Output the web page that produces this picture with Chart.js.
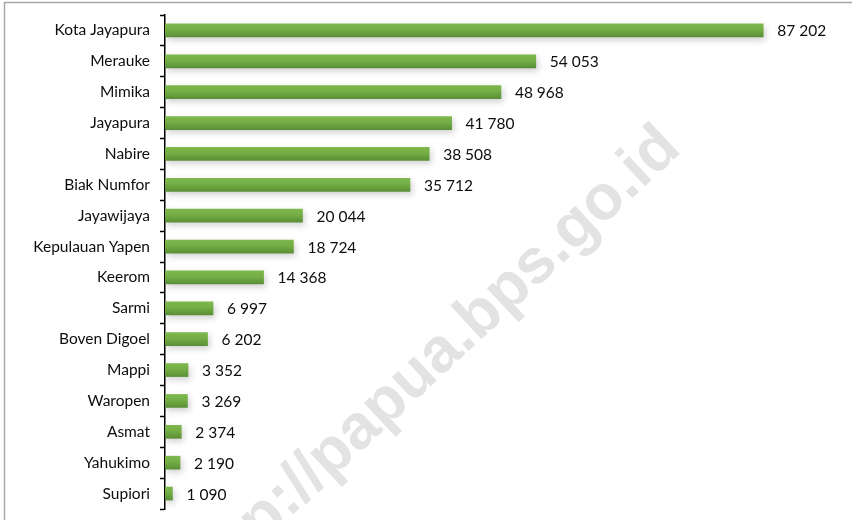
<!DOCTYPE html>
<html>
<head>
<meta charset="utf-8">
<script src="https://cdn.jsdelivr.net/npm/chart.js@4/dist/chart.umd.min.js"></script>
<style>
  html, body { margin: 0; padding: 0; background: #ffffff; }
  #wrap { position: relative; width: 852px; height: 520px; }
</style>
</head>
<body>
<div id="wrap"><canvas id="c"></canvas></div>
<script>
// Regencies / cities, largest first
const categories = [
  'Kota Jayapura', 'Merauke', 'Mimika', 'Jayapura', 'Nabire', 'Biak Numfor',
  'Jayawijaya', 'Kepulauan Yapen', 'Keerom', 'Sarmi', 'Boven Digoel',
  'Mappi', 'Waropen', 'Asmat', 'Yahukimo', 'Supiori'
];
const values = [
  87202, 54053, 48968, 41780, 38508, 35712,
  20044, 18724, 14368, 6997, 6202,
  3352, 3269, 2374, 2190, 1090
];
const watermarkText = 'http://papua.bps.go.id';

const FONT = 'Lato, "Open Sans", sans-serif';
const FONT_SIZE = 15.5;

function fmt(v) {
  return String(v).replace(/\B(?=(\d{3})+(?!\d))/g, ' ');
}

// Light frame along the top and left edges
const framePlugin = {
  id: 'frame',
  beforeDraw(chart) {
    const ctx = chart.ctx;
    ctx.save();
    ctx.strokeStyle = '#a8a8a8';
    ctx.lineWidth = 1.5;
    ctx.beginPath();
    ctx.moveTo(4.5, 520);
    ctx.lineTo(4.5, 2.5);
    ctx.lineTo(852, 2.5);
    ctx.stroke();
    ctx.restore();
  }
};

// Diagonal site watermark behind the bars
const watermarkPlugin = {
  id: 'watermark',
  beforeDatasetsDraw(chart) {
    const ctx = chart.ctx;
    ctx.save();
    ctx.translate(683, 151);
    ctx.rotate(-43 * Math.PI / 180);
    ctx.font = 'bold 63px "Liberation Sans", Arial, sans-serif';
    ctx.fillStyle = '#e3e3e3';
    ctx.textAlign = 'right';
    ctx.textBaseline = 'alphabetic';
    ctx.fillText(watermarkText, 0, 0);
    ctx.restore();
  }
};

// Soft drop shadow under the bars
const shadowPlugin = {
  id: 'barShadow',
  beforeDatasetDraw(chart) {
    const ctx = chart.ctx;
    ctx.save();
    ctx.shadowColor = 'rgba(0,0,0,0.18)';
    ctx.shadowBlur = 6;
    ctx.shadowOffsetX = 2;
    ctx.shadowOffsetY = 3;
  },
  afterDatasetDraw(chart) {
    chart.ctx.restore();
  }
};

// Value labels just past the end of each bar
const valueLabelPlugin = {
  id: 'valueLabels',
  afterDatasetsDraw(chart) {
    const ctx = chart.ctx;
    const meta = chart.getDatasetMeta(0);
    const data = chart.data.datasets[0].data;
    ctx.save();
    ctx.font = FONT_SIZE + 'px ' + FONT;
    ctx.fillStyle = '#0d0d0d';
    ctx.textAlign = 'left';
    ctx.textBaseline = 'middle';
    meta.data.forEach((bar, i) => {
      ctx.fillText(fmt(data[i]), bar.x + 14, bar.y + 1);
    });
    ctx.restore();
  }
};

function barGradient(context) {
  const chart = context.chart;
  const el = context.element;
  if (!chart.chartArea || !el) return '#6aa33f';
  const y = chart.scales.y.getPixelForValue(context.dataIndex);
  const g = chart.ctx.createLinearGradient(0, y - 6.5, 0, y + 6.5);
  g.addColorStop(0, '#7db74c');
  g.addColorStop(0.45, '#73ad45');
  g.addColorStop(1, '#5b8f36');
  return g;
}

new Chart(document.getElementById('c'), {
  type: 'bar',
  data: {
    labels: categories,
    datasets: [{
      data: values,
      backgroundColor: barGradient,
      borderWidth: 0,
      barThickness: 13
    }]
  },
  options: {
    indexAxis: 'y',
    responsive: true,
    maintainAspectRatio: false,
    animation: false,
    layout: { padding: { left: 0, right: 1, top: 15, bottom: 11 } },
    plugins: {
      legend: { display: false },
      tooltip: { enabled: false }
    },
    scales: {
      x: {
        display: false,
        min: 0,
        max: 100000
      },
      y: {
        offset: true,
        afterFit(scale) {
          scale.width = 165;
          scale.paddingTop = 0;
          scale.paddingBottom = 0;
        },
        border: { display: true, color: '#000000', width: 1.5 },
        grid: {
          offset: true,
          drawOnChartArea: false,
          drawTicks: true,
          tickLength: 5,
          tickColor: '#000000',
          tickWidth: 1.5
        },
        ticks: {
          padding: 10,
          color: '#0d0d0d',
          font: { family: FONT, size: FONT_SIZE }
        }
      }
    }
  },
  plugins: [framePlugin, watermarkPlugin, shadowPlugin, valueLabelPlugin]
});
</script>
</body>
</html>
